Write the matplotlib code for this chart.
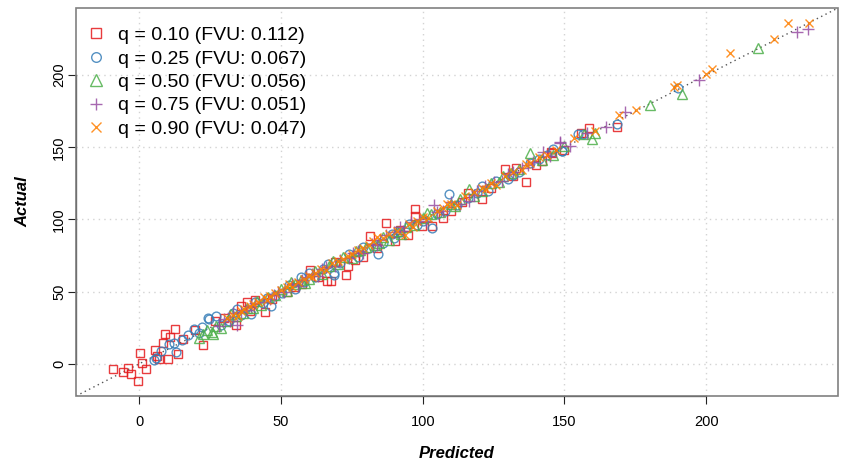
"""Predicted vs actual for several quantile regression fits."""

import numpy as np
import matplotlib
matplotlib.use("Agg")
import matplotlib.pyplot as plt
from matplotlib.patches import Rectangle

# (predicted, actual) pairs, one list per quantile
q10_points = [
    (-9.4, -3.5), (-5.9, -5.6), (-4.1, -3.0), (-2.9, -7.4), (-0.4, -12.0),
    (0.2, 7.4), (0.8, 0.9), (2.4, -3.3), (5.6, 9.7), (6.4, 5.1),
    (6.8, 3.2), (10.2, 3.2), (8.5, 14.4), (9.2, 20.6), (10.9, 18.5),
    (12.7, 24.1), (13.8, 6.9), (15.5, 17.2), (19.7, 23.6), (22.6, 13.2),
    (26.8, 29.4), (34.0, 27.1), (35.8, 40.3), (37.9, 42.8), (44.4, 35.6),
    (41.0, 44.0), (47.0, 45.0), (52.0, 50.0), (55.0, 53.0), (60.2, 65.3),
    (63.0, 60.0), (66.3, 57.2), (67.8, 57.6), (73.1, 61.8), (73.7, 67.6),
    (76.0, 72.0), (81.3, 88.4), (84.0, 80.0), (86.9, 97.7), (90.4, 85.4),
    (94.8, 88.9), (97.4, 102.3), (97.4, 107.4), (99.8, 95.3), (103.3, 95.3),
    (107.0, 101.0), (110.0, 106.0), (114.0, 112.0), (120.9, 114.3), (124.0, 122.0),
    (128.9, 134.7), (132.0, 130.0), (136.4, 125.9), (140.0, 138.0), (145.5, 145.8),
    (145.4, 146.5), (150.0, 148.0), (158.7, 163.4), (168.7, 164.4),
    (30.0, 32.0), (39.0, 36.5), (57.5, 55.0), (69.0, 70.5), (79.0, 74.0),
    (92.0, 93.0), (116.0, 118.0), (133.0, 136.0), (142.0, 140.5), (156.0, 160.0),
]
q25_points = [
    (5.3, 2.8), (5.9, 4.0), (7.6, 8.6), (10.6, 13.7), (12.3, 14.4),
    (13.1, 8.1), (15.1, 16.7), (17.1, 20.1), (19.4, 24.1), (21.1, 21.3),
    (24.4, 31.7), (27.0, 32.8), (24.6, 31.3), (29.0, 27.0), (31.5, 30.0),
    (33.0, 35.0), (36.0, 34.0), (39.3, 34.7), (41.0, 43.0), (43.5, 42.0),
    (46.4, 40.3), (48.0, 47.0), (50.5, 49.0), (53.0, 54.5), (55.0, 52.0),
    (58.0, 57.0), (59.9, 63.0), (62.0, 60.0), (65.0, 66.0), (68.7, 61.8),
    (68.7, 63.0), (71.0, 70.0), (74.0, 76.0), (77.0, 74.0), (79.0, 81.0),
    (84.2, 76.4), (86.0, 84.0), (89.0, 90.0), (92.0, 91.0), (95.0, 97.0),
    (98.0, 96.0), (103.3, 94.2), (105.0, 104.0), (109.2, 117.4), (112.0, 110.0),
    (116.0, 115.0), (119.0, 118.0), (123.0, 120.0), (126.0, 127.0), (130.0, 128.0),
    (134.0, 133.0), (138.0, 139.0), (141.0, 142.0), (144.0, 145.0), (149.0, 147.4),
    (149.2, 147.2), (154.9, 159.3), (156.7, 159.3), (168.7, 166.2), (189.9, 191.0),
    (22.0, 25.5), (34.5, 38.0), (45.0, 45.5), (57.0, 60.0), (66.5, 69.0),
    (81.0, 80.0), (90.0, 87.5), (100.0, 99.0), (108.0, 106.0), (121.0, 123.0),
    (132.0, 130.5), (146.0, 149.0),
]
q50_points = [
    (21.0, 18.0), (22.5, 21.0), (24.0, 23.5), (25.5, 22.0), (27.0, 26.0),
    (29.0, 25.0), (31.0, 30.0), (34.0, 33.0), (36.5, 35.0), (38.0, 38.5),
    (40.0, 39.0), (43.0, 41.0), (45.5, 46.0), (48.0, 48.0), (50.0, 52.0),
    (52.0, 50.5), (55.0, 55.0), (57.0, 58.0), (60.0, 59.0), (62.0, 64.0),
    (64.5, 62.0), (67.0, 68.0), (70.0, 69.0), (72.0, 74.0), (75.0, 73.5),
    (78.0, 79.0), (80.0, 81.0), (83.0, 82.0), (86.0, 88.0), (88.0, 86.0),
    (91.0, 92.0), (94.0, 95.0), (97.0, 96.0), (100.0, 101.0), (103.0, 104.0),
    (106.0, 105.0), (110.0, 111.0), (113.0, 114.0), (116.4, 121.3), (118.0, 116.0),
    (120.9, 119.7), (124.0, 125.0), (127.0, 126.0), (131.0, 132.0), (134.0, 135.0),
    (137.9, 146.3), (142.0, 141.0), (146.0, 145.0), (150.0, 151.0), (157.0, 159.0),
    (159.6, 156.0), (160.8, 160.0), (180.2, 179.4), (191.5, 186.6), (218.3, 219.0),
    (26.0, 20.5), (32.5, 34.5), (41.5, 43.5), (53.5, 56.5), (58.5, 56.0),
    (68.5, 71.0), (76.5, 78.0), (84.5, 84.0), (92.5, 90.0), (101.5, 104.5),
    (111.5, 109.0), (128.5, 130.0),
]
q75_points = [
    (28.2, 25.9), (30.0, 31.0), (32.0, 30.0), (34.6, 27.1), (36.0, 36.0),
    (38.0, 37.0), (41.0, 42.0), (44.0, 43.0), (46.0, 45.0), (49.0, 50.0),
    (51.0, 49.5), (54.0, 55.0), (56.0, 54.0), (59.0, 60.0), (61.0, 62.0),
    (63.0, 61.0), (66.0, 67.0), (69.0, 68.0), (71.0, 72.0), (74.0, 73.0),
    (77.0, 78.0), (79.0, 77.0), (82.0, 83.0), (85.0, 86.0), (87.0, 89.0),
    (90.0, 91.0), (93.0, 92.0), (96.0, 98.0), (99.0, 100.0), (101.0, 99.0),
    (103.9, 109.7), (107.0, 106.0), (110.0, 112.0), (113.0, 111.0), (116.2, 112.7),
    (119.0, 120.0), (122.0, 123.0), (125.0, 126.0), (128.0, 127.0), (132.0, 133.0),
    (135.0, 136.0), (139.0, 140.0), (142.6, 147.0), (145.0, 144.0), (148.5, 153.2),
    (148.5, 153.5), (152.0, 151.0), (158.0, 160.0), (164.5, 164.4), (171.4, 174.8),
    (197.4, 196.8), (232.2, 229.9), (235.9, 232.2),
    (33.0, 35.5), (39.5, 40.0), (47.5, 47.5), (57.5, 58.0), (64.5, 66.0),
    (75.5, 76.5), (84.0, 82.0), (92.0, 94.5), (105.0, 105.5), (118.0, 117.0),
    (130.0, 131.5), (137.0, 138.0),
]
q90_points = [
    (31.0, 32.0), (33.0, 34.0), (35.0, 33.0), (37.0, 38.0), (39.0, 40.0),
    (40.0, 41.5), (42.0, 43.0), (44.0, 46.0), (46.0, 47.0), (48.0, 49.0),
    (50.0, 51.0), (52.0, 53.0), (54.0, 53.0), (56.0, 57.0), (58.0, 59.0),
    (60.0, 61.0), (62.0, 63.0), (64.0, 66.0), (66.0, 65.0), (68.0, 70.0),
    (70.0, 71.0), (72.0, 72.5), (75.0, 76.0), (77.0, 79.0), (79.0, 80.0),
    (81.0, 82.0), (84.0, 88.0), (86.0, 87.0), (88.0, 90.0), (91.0, 92.0),
    (93.9, 88.9), (95.0, 97.0), (98.0, 99.0), (100.0, 102.0), (102.0, 101.0),
    (105.0, 106.0), (107.0, 108.0), (110.0, 111.0), (112.0, 110.0), (115.0, 116.0),
    (118.0, 119.0), (121.0, 122.0), (124.0, 125.0), (126.0, 124.0), (129.0, 130.0),
    (132.0, 133.0), (135.0, 134.0), (138.0, 139.0), (141.0, 143.0), (144.0, 145.0),
    (147.0, 148.0), (153.2, 156.2), (160.8, 161.6), (169.4, 172.4), (175.1, 175.5),
    (188.7, 191.7), (189.6, 193.5), (200.1, 200.9), (201.9, 204.4), (208.3, 215.3),
    (223.8, 224.8), (228.9, 236.1), (236.3, 236.1),
    (36.0, 36.5), (45.0, 44.0), (53.0, 55.5), (61.0, 60.0), (73.5, 75.0),
    (82.5, 85.0), (96.5, 95.0), (108.5, 110.5), (122.5, 121.0), (136.5, 138.5),
]

quantiles = [0.10, 0.25, 0.50, 0.75, 0.90]
fvu = [0.112, 0.067, 0.056, 0.051, 0.047]
all_points = [q10_points, q25_points, q50_points, q75_points, q90_points]

# RColorBrewer Set1 and base-R pch 0..4
colors = ["#E41A1C", "#377EB8", "#4DAF4A", "#984EA3", "#FF7F00"]
markers = ["s", "o", "^", "+", "x"]
msizes = [6.3, 6.3, 7.2, 8.5, 6.2]

plt.rcParams["font.family"] = ["Liberation Sans", "DejaVu Sans"]

fig = plt.figure(figsize=(8.41, 4.66), dpi=100)
ax = fig.add_axes([0.0904, 0.1502, 0.906, 0.8326])

lims = (-22.3, 246.5)
ax.set_xlim(lims)
ax.set_ylim(lims)

ticks = [0, 50, 100, 150, 200]
for t in ticks:
    ax.axvline(t, color="#d3d3d3", linestyle=(0, (1, 3)), linewidth=1, zorder=0)
    ax.axhline(t, color="#d3d3d3", linestyle=(0, (1, 3)), linewidth=1, zorder=0)

# identity line
ax.plot(lims, lims, color="#555555", linestyle=(0, (1, 2.5)), linewidth=1, zorder=1)

for q, f, pts, c, m, s in zip(quantiles, fvu, all_points, colors, markers, msizes):
    pts = np.array(pts)
    ax.plot(pts[:, 0], pts[:, 1], linestyle="none", marker=m, markersize=s,
            markerfacecolor="none", markeredgecolor=c, markeredgewidth=1.0,
            alpha=0.85, label=f"q = {q:.2f} (FVU: {f:.3f})", zorder=2)

leg = ax.legend(loc="upper left", bbox_to_anchor=(0.008, 0.9675), frameon=False,
                fontsize=14, markerscale=1.1, handlelength=0.8, handletextpad=0.73,
                labelspacing=0.3, borderaxespad=0, borderpad=0.3)

ax.set_xticks(ticks)
ax.set_yticks(ticks)
ax.tick_params(axis="both", length=6, width=0.8, labelsize=10.5, color="#222222")
ax.tick_params(axis="x", pad=8)
ax.tick_params(axis="y", pad=1)
for lab in ax.get_yticklabels():
    lab.set_rotation(90)
    lab.set_va("center")

# grey box with black axis lines spanning the ticks, like base R
for side in ["top", "right"]:
    ax.spines[side].set_visible(False)
for side in ["left", "bottom"]:
    ax.spines[side].set_bounds(0, 200)
    ax.spines[side].set_color("#222222")
    ax.spines[side].set_linewidth(0.9)
ax.add_patch(Rectangle((0, 0), 1, 1, transform=ax.transAxes, fill=False,
                       edgecolor="#808080", linewidth=1.2, zorder=3, clip_on=False))

ax.set_xlabel("Predicted", fontsize=12, fontweight="bold", fontstyle="italic", labelpad=12)
ax.set_ylabel("Actual", fontsize=12, fontweight="bold", fontstyle="italic", labelpad=16)

fig.savefig("out.png", dpi=100)
